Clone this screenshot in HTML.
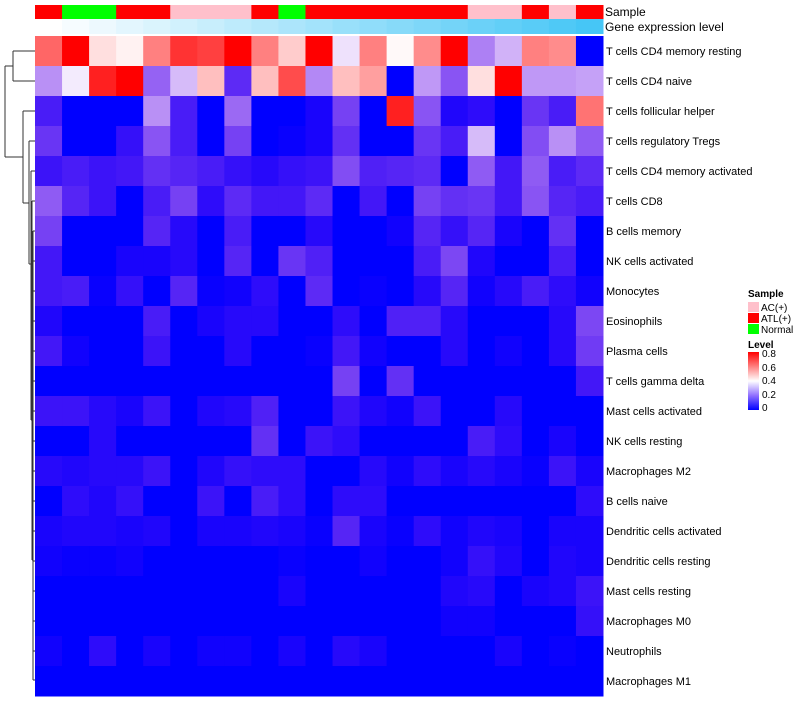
<!DOCTYPE html>
<html><head><meta charset="utf-8"><style>
body{margin:0;background:#fff;font-family:"Liberation Sans",sans-serif}
svg text{font-family:"Liberation Sans",sans-serif}
</style></head><body>
<svg id="chart" width="800" height="700" viewBox="0 0 800 700" xmlns="http://www.w3.org/2000/svg">
<g id="dendro" stroke="#333" stroke-width="1" fill="none">
<path d="M13,51H35M13,81H35M13,51V81M5,66H13M5,66V157M5,157H23M23,111H35M23,111V203M23,203H29M29,141H35M29,141V264M29,264H31M31,171H35M31,171V420M31,420H32M32,201H35M32,201V560M32,560H33M33,231H35M33,231V680M33,261H35M33,291H35M33,321H35M33,351H35M33,381H35M33,411H35M33,441H35M33,471H35M33,501H35M33,531H35M33,561H35M33,591H35M33,621H35M33,651H35M33,680H35"/>
</g>
<g id="samplebar"></g>
<g id="genebar"></g>
<g id="cells"></g>
<g id="labels"></g>
<text x="605" y="16" font-size="12">Sample</text>
<text x="605" y="31" font-size="12">Gene expression level</text>
<g font-size="10">
<text x="748" y="297" font-weight="bold">Sample</text>
<rect x="748" y="302" width="11" height="10" fill="#ffc0cb"/>
<text x="761" y="311">AC(+)</text>
<rect x="748" y="313" width="11" height="10" fill="#ff0000"/>
<text x="761" y="322">ATL(+)</text>
<rect x="748" y="324" width="11" height="10" fill="#00ff00"/>
<text x="761" y="333">Normal</text>
<text x="748" y="348" font-weight="bold">Level</text>
<defs><linearGradient id="lg" x1="0" y1="0" x2="0" y2="1"><stop offset="0" stop-color="#f00"/><stop offset="0.25" stop-color="#ff8080"/><stop offset="0.5" stop-color="#fff"/><stop offset="0.75" stop-color="#9070ff"/><stop offset="1" stop-color="#00f"/></linearGradient></defs>
<rect x="748" y="352" width="11" height="58" fill="url(#lg)"/>
<text x="762" y="357">0.8</text>
<text x="762" y="371">0.6</text>
<text x="762" y="384">0.4</text>
<text x="762" y="398">0.2</text>
<text x="762" y="411">0</text>
</g>
</svg>
<script>
const rowNames=["T cells CD4 memory resting","T cells CD4 naive","T cells follicular helper","T cells regulatory  Tregs","T cells CD4 memory activated","T cells CD8","B cells memory","NK cells activated","Monocytes","Eosinophils","Plasma cells","T cells gamma delta","Mast cells activated","NK cells resting","Macrophages M2","B cells naive","Dendritic cells activated","Dendritic cells resting","Mast cells resting","Macrophages M0","Neutrophils","Macrophages M1"];
const sampleGroups=["ATL","Normal","Normal","ATL","ATL","AC","AC","AC","ATL","Normal","ATL","ATL","ATL","ATL","ATL","ATL","AC","AC","ATL","AC","ATL"];
const geneLevels=[0,0.05,0.1,0.15,0.2,0.25,0.3,0.35,0.4,0.45,0.5,0.55,0.6,0.65,0.7,0.75,0.8,0.85,0.9,0.95,1];
const values=[
[0.64,0.8,0.45,0.42,0.6,0.72,0.7,0.8,0.6,0.48,0.8,0.37,0.6,0.41,0.58,0.8,0.26,0.32,0.6,0.58,0],
[0.28,0.38,0.75,0.8,0.22,0.33,0.5,0.13,0.5,0.68,0.27,0.5,0.55,0,0.29,0.2,0.45,0.8,0.29,0.29,0.3],
[0.1,0,0,0,0.28,0.1,0,0.23,0,0,0.03,0.17,0,0.75,0.2,0.04,0.06,0,0.15,0.1,0.62],
[0.15,0,0,0.07,0.2,0.1,0,0.17,0,0.01,0.03,0.14,0,0,0.15,0.1,0.33,0,0.19,0.28,0.21],
[0.08,0.1,0.08,0.09,0.14,0.12,0.1,0.07,0.05,0.07,0.08,0.19,0.11,0.12,0.13,0,0.21,0.09,0.21,0.1,0.13],
[0.21,0.12,0.08,0,0.1,0.17,0.06,0.13,0.09,0.09,0.13,0,0.09,0,0.17,0.14,0.15,0.09,0.2,0.12,0.1],
[0.17,0,0,0,0.12,0.05,0,0.1,0,0,0.05,0,0,0.02,0.12,0.07,0.12,0.03,0,0.14,0],
[0.09,0,0,0.03,0.03,0.05,0,0.12,0,0.15,0.11,0,0,0,0.1,0.18,0.04,0,0,0.1,0],
[0.09,0.1,0.01,0.07,0,0.12,0.01,0.02,0.06,0,0.13,0,0.01,0,0.05,0.12,0.02,0.05,0.1,0.06,0.02],
[0.04,0,0,0,0.1,0,0.03,0.05,0.05,0,0,0.06,0,0.11,0.11,0.05,0,0,0,0.05,0.18],
[0.09,0.02,0,0,0.08,0,0,0.05,0,0,0.01,0.09,0.02,0,0,0.05,0,0.02,0,0.05,0.16],
[0,0,0,0,0,0,0,0,0,0,0,0.17,0,0.14,0,0,0,0,0,0,0.09],
[0.08,0.08,0.05,0.03,0.08,0,0.04,0.05,0.11,0,0,0.08,0.04,0.02,0.08,0,0,0.05,0,0,0],
[0,0,0.05,0,0,0,0,0,0.14,0,0.08,0.06,0,0,0,0,0.1,0.06,0,0.03,0],
[0.05,0.04,0.05,0.05,0.08,0,0.04,0.07,0.06,0.06,0,0,0.05,0.02,0.06,0.03,0.05,0.03,0.01,0.08,0.03],
[0,0.06,0.04,0.07,0,0,0.08,0,0.1,0.06,0,0.06,0.06,0,0,0,0,0,0,0,0.06],
[0.03,0.04,0.04,0.03,0.04,0,0.03,0.03,0.04,0.03,0.01,0.12,0.03,0.01,0.06,0.02,0.04,0.03,0,0.03,0.03],
[0.02,0.01,0.01,0.02,0,0,0,0,0,0.01,0,0,0.02,0,0,0.02,0.07,0.04,0,0.04,0.03],
[0,0,0,0,0,0,0,0,0,0.03,0,0,0,0,0,0.04,0.05,0,0.03,0.04,0.08],
[0,0,0,0,0,0,0,0,0,0,0,0,0,0,0,0.02,0.02,0,0,0,0.07],
[0.02,0,0.06,0,0.03,0,0.02,0.02,0,0.03,0,0.05,0.03,0,0,0,0,0.03,0,0.01,0],
[0,0,0,0,0,0,0,0,0,0,0,0,0,0,0,0,0,0,0,0,0]
];
const NS="http://www.w3.org/2000/svg";
const x0=35,x1=603,y0=36,y1=696;
const nC=values[0].length,nR=values.length;
const cw=(x1-x0)/nC,rh=(y1-y0)/nR;
const xPos=c=>x0+c*cw, yPos=r=>y0+r*rh;
function colorFor(v){
  v=Math.max(0,Math.min(0.8,v));
  let r,g,b;
  if(v<=0.4){const t=v/0.4;r=Math.round(255*Math.pow(t,0.9));g=Math.round(255*Math.pow(t,1.6));b=Math.round(255-12*Math.sin(Math.PI*t));}
  else{const t=(v-0.4)/0.4;r=255;g=Math.round(255*(1-t));b=g;}
  return `rgb(${r},${g},${b})`;
}
const sampleColor={ATL:"#ff0000",AC:"#ffc0cb",Normal:"#00ff00"};
function geneColor(t){const a=[255,255,255],b=[70,198,246];return `rgb(${a.map((v,i)=>Math.round(v+(b[i]-v)*t)).join(",")})`;}
function mk(tag,attrs,parent){const e=document.createElementNS(NS,tag);for(const k in attrs)e.setAttribute(k,attrs[k]);parent.appendChild(e);return e;}
const sb=document.getElementById("samplebar"),gb=document.getElementById("genebar"),cg=document.getElementById("cells"),lg=document.getElementById("labels");
sampleGroups.forEach((s,c)=>{
  const e=mk("rect",{x:xPos(c),y:5,width:cw+0.5,height:14,fill:sampleColor[s]},sb);
  
  
});
geneLevels.forEach((g,c)=>{
  const e=mk("rect",{x:xPos(c),y:19,width:cw+0.5,height:15,fill:geneColor(g)},gb);
  
  
});
values.forEach((row,r)=>{
  row.forEach((v,c)=>{
    const e=mk("rect",{x:xPos(c),y:yPos(r),width:cw+0.5,height:rh+0.5,fill:colorFor(v)},cg);
    
    
  });
  const t=mk("text",{x:606,y:yPos(r)+rh/2+4,"font-size":"11"},lg);
  t.textContent=rowNames[r];
  
  
});
</script>
</body></html>
